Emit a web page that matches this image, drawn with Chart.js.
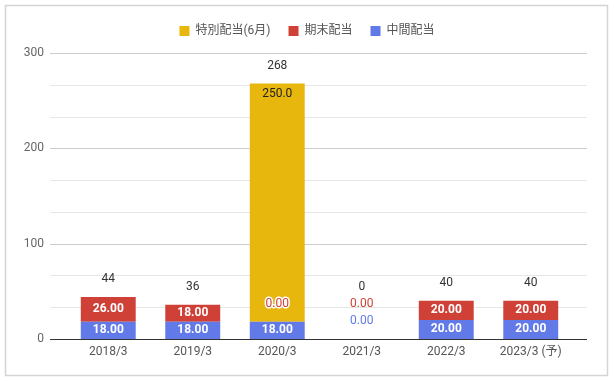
<!DOCTYPE html>
<html>
<head>
<meta charset="utf-8">
<script src="https://cdn.jsdelivr.net/npm/chart.js@4"></script>
<style>
  html, body { margin: 0; padding: 0; background: #fff; }
  canvas { display: block; }
</style>
</head>
<body>
<canvas id="chart" width="614" height="381"></canvas>
<script>
// 配当の推移 (円)
const categories = ['2018/3', '2019/3', '2020/3', '2021/3', '2022/3', '2023/3 (予)'];
const interim = [18, 18, 18, 0, 20, 20];      // 中間配当
const yearEnd = [26, 18, 0, 0, 20, 20];       // 期末配当
const special = [null, null, 250, null, null, null]; // 特別配当(6月)
const yTicks = [0, 100, 200, 300];

const BLUE = '#6279e8';
const RED = '#cf4037';
const YELLOW = '#e7b70e';
const FONT = 'Roboto, "Noto Sans CJK JP", sans-serif';

// how each series writes its value label
const labelFmt = [
  { digits: 2, color: '#fff', zeroColor: BLUE },
  { digits: 2, color: '#fff', zeroColor: RED },
  { digits: 1, color: '#222', zeroColor: YELLOW, nearTop: true }
];

const frame = {
  id: 'frame',
  beforeInit(chart) {
    // a bit more room between the legend and the plot
    const fit = chart.legend.fit;
    chart.legend.fit = function () {
      fit.call(this);
      this.height += 6;
    };
  },
  beforeDraw(chart) {
    const ctx = chart.ctx;
    ctx.save();
    ctx.strokeStyle = '#d4d4d4';
    ctx.lineWidth = 1.5;
    ctx.strokeRect(5.5, 5.5, 602, 370);
    ctx.restore();
  }
};

const gridLines = {
  id: 'gridLines',
  beforeDatasetsDraw(chart) {
    const { ctx, chartArea, scales: { y } } = chart;
    ctx.save();
    y.ticks.forEach(t => {
      if (Math.abs(t.value) < 0.01) return;
      const py = Math.round(y.getPixelForValue(t.value)) + 0.5;
      const major = yTicks.some(v => Math.abs(v - t.value) < 0.01);
      ctx.strokeStyle = major ? '#cccccc' : '#e6e6e6';
      ctx.lineWidth = 1;
      ctx.beginPath();
      ctx.moveTo(chartArea.left - 16, py);
      ctx.lineTo(chartArea.right + 14, py);
      ctx.stroke();
    });
    ctx.restore();
  },
  afterDatasetsDraw(chart) {
    const { ctx, chartArea, scales: { y } } = chart;
    const py = Math.round(y.getPixelForValue(0)) + 0.5;
    ctx.save();
    ctx.strokeStyle = '#333';
    ctx.lineWidth = 1.2;
    ctx.beginPath();
    ctx.moveTo(chartArea.left - 16, py);
    ctx.lineTo(chartArea.right + 14, py);
    ctx.stroke();
    ctx.restore();
  }
};

const valueLabels = {
  id: 'valueLabels',
  afterDatasetsDraw(chart) {
    const ctx = chart.ctx;
    const y = chart.scales.y;
    const metas = chart.data.datasets.map((d, k) => chart.getDatasetMeta(k));
    ctx.save();
    ctx.textAlign = 'center';
    ctx.textBaseline = 'middle';
    categories.forEach((c, i) => {
      const x = metas[0].data[i].x;
      let cursor = y.getPixelForValue(0);
      let total = 0;
      chart.data.datasets.forEach((ds, k) => {
        const v = ds.data[i];
        if (v == null) return;
        const fmt = labelFmt[k];
        const txt = v.toFixed(fmt.digits);
        total += v;
        if (v > 0) {
          const bar = metas[k].data[i];
          const top = Math.min(bar.y, bar.base);
          const ty = fmt.nearTop ? top + 10 : (bar.y + bar.base) / 2;
          ctx.font = (fmt.nearTop ? '' : 'bold ') + '12px ' + FONT;
          ctx.fillStyle = fmt.color;
          ctx.fillText(txt, x, ty);
          cursor = top;
        } else {
          const ty = cursor - 18;
          const onBar = chart.data.datasets.some((d2, k2) => k2 > k && d2.data[i] > 0);
          ctx.font = '12px ' + FONT;
          if (onBar) {
            ctx.strokeStyle = '#fff';
            ctx.lineWidth = 3;
            ctx.lineJoin = 'round';
            ctx.strokeText(txt, x, ty);
          }
          ctx.fillStyle = fmt.zeroColor;
          ctx.fillText(txt, x, ty);
          cursor = ty + 1;
        }
      });
      ctx.font = '12px ' + FONT;
      ctx.fillStyle = '#333';
      ctx.fillText(String(Math.round(total)), x, cursor - 18);
    });
    ctx.restore();
  }
};

new Chart(document.getElementById('chart'), {
  type: 'bar',
  data: {
    labels: categories,
    datasets: [
      { label: '中間配当', data: interim, backgroundColor: BLUE },
      { label: '期末配当', data: yearEnd, backgroundColor: RED },
      { label: '特別配当(6月)', data: special, backgroundColor: YELLOW }
    ]
  },
  options: {
    responsive: false,
    animation: false,
    events: [],
    layout: { padding: { top: 7, right: 0, bottom: 0, left: 0 } },
    datasets: {
      bar: { barPercentage: 0.65, categoryPercentage: 1, borderWidth: 0 }
    },
    plugins: {
      tooltip: { enabled: false },
      legend: {
        position: 'top',
        reverse: true,
        labels: {
          boxWidth: 10,
          boxHeight: 10,
          padding: 18,
          color: '#555',
          font: { family: FONT, size: 12 }
        }
      }
    },
    scales: {
      x: {
        stacked: true,
        grid: { display: false, drawTicks: false },
        border: { display: false },
        ticks: { color: '#555', padding: 6, font: { family: FONT, size: 12 } },
        afterFit(scale) { scale.height = 42; }
      },
      y: {
        stacked: true,
        min: 0,
        max: 300,
        grid: { display: false, drawTicks: false },
        border: { display: false },
        ticks: {
          stepSize: 100 / 3,
          padding: 22,
          color: '#666',
          font: { family: FONT, size: 12 },
          callback(v) {
            const hit = yTicks.find(t => Math.abs(t - v) < 0.01);
            return hit === undefined ? '' : String(hit);
          }
        },
        afterFit(scale) { scale.width = 66; }
      },
      // empty right-hand axis: keeps the plot clear of the right edge
      // while the legend stays centred on the whole page
      spacer: {
        type: 'linear',
        position: 'right',
        grid: { display: false, drawTicks: false },
        border: { display: false },
        ticks: { display: false },
        afterFit(scale) { scale.width = 41; }
      }
    }
  },
  plugins: [frame, gridLines, valueLabels]
});
</script>
</body>
</html>
